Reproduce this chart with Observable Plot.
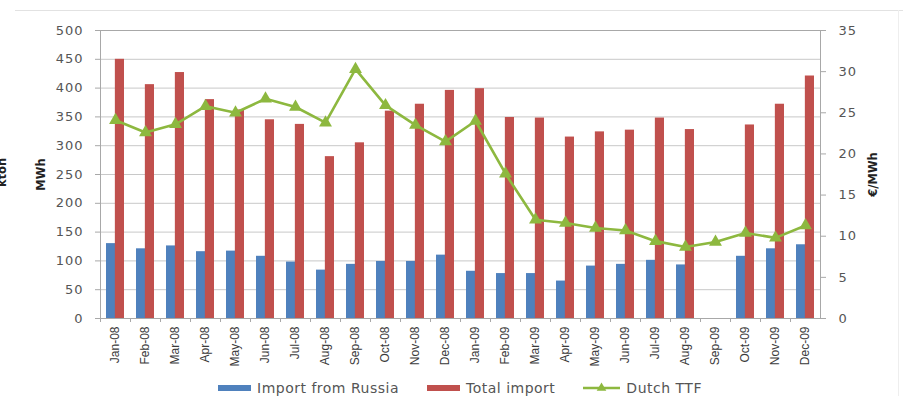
<!DOCTYPE html>
<html>
<head>
<meta charset="utf-8">
<script src="https://cdn.jsdelivr.net/npm/d3@7"></script>
<script src="https://cdn.jsdelivr.net/npm/@observablehq/plot@0.6"></script>
<style>
  body { margin: 0; background: #fff; font-family: "DejaVu Sans", sans-serif; }
  #wrap { position: relative; width: 903px; height: 396px; overflow: hidden; }
  #topline { position: absolute; left: 15px; right: 0; top: 10px; height: 1px; background: #e2e2e2; }
  #sideline { position: absolute; right: 4px; top: 10px; bottom: 0; width: 1px; background: #eeeeee; }
  #chart svg { display: block; }
  #chart [aria-label="y-axis tick label"] { letter-spacing: 1px; }
  #chart [aria-label="x-axis tick label"] { font-family: "Liberation Sans", Arial, sans-serif; font-size: 12px; fill: #3a3a3a; }
  #chart [aria-label="y-axis label"] { font-weight: bold; font-size: 11.5px; fill: #222; }
  #legend { position: absolute; top: 379px; left: 218px; height: 18px; display: flex; align-items: center;
            gap: 28px; font-size: 14px; letter-spacing: 0.5px; color: #555; white-space: nowrap; }
  .item { display: flex; align-items: center; gap: 6px; }
  .sw { width: 33px; height: 6px; }
  .ln { width: 37px; height: 12px; }
</style>
</head>
<body>
<div id="wrap">
  <div id="topline"></div>
  <div id="sideline"></div>
  <div id="chart"></div>
  <div id="legend"></div>
</div>
<script>
// Monthly gas imports (MWh) and the Dutch TTF gas price (€/MWh), 2008–2009
const months = ["Jan-08","Feb-08","Mar-08","Apr-08","May-08","Jun-08","Jul-08","Aug-08","Sep-08","Oct-08","Nov-08","Dec-08",
                "Jan-09","Feb-09","Mar-09","Apr-09","May-09","Jun-09","Jul-09","Aug-09","Sep-09","Oct-09","Nov-09","Dec-09"];
const importRussia = [130,121,126,116,117,108,98,84,94,99,99,110,
                      82,78,78,65,91,94,101,93,null,108,121,128];
const totalImport = [450,406,427,380,362,345,337,281,305,360,372,396,
                     399,349,348,315,324,327,348,328,null,336,372,421];
const dutchTTF = [24.1,22.6,23.6,25.8,25.0,26.7,25.7,23.8,30.3,25.9,23.5,21.5,
                  24.0,17.6,12.0,11.6,11.0,10.7,9.4,8.7,9.3,10.4,9.8,11.3];
const leftTicks = [0,50,100,150,200,250,300,350,400,450,500];
const rightTicks = [0,5,10,15,20,25,30,35];

const colors = { russia: "#4f81bd", total: "#c0504d", ttf: "#8db83f" };

// The price axis (0–35) shares the plot height with the volume axis (0–500)
const K = 500 / 35;

const rows = months.map((m, i) => ({
  month: m, russia: importRussia[i], total: totalImport[i], ttf: dutchTTF[i]
}));

// Each month's band holds two bars side by side
const pInner = 0.41;
const halfBand = (720 / 24) * (1 - pInner) / 2;

const chart = Plot.plot({
  width: 903,
  height: 370,
  marginLeft: 100,
  marginRight: 83,
  marginTop: 30,
  marginBottom: 52,
  style: { fontFamily: "DejaVu Sans, sans-serif", fontSize: "13px", color: "#555", background: "transparent" },
  x: { domain: months, paddingInner: pInner, paddingOuter: pInner / 2, align: 0.5 },
  y: { domain: [0, 500] },
  marks: [
    Plot.ruleY(leftTicks, { stroke: "#c8c8c8", strokeWidth: 1 }),
    Plot.frame({ stroke: "#a8a8a8" }),
    Plot.barY(rows, { x: "month", y: "russia", fill: colors.russia, insetRight: halfBand }),
    Plot.barY(rows, { x: "month", y: "total", fill: colors.total, insetLeft: halfBand }),
    Plot.line(rows, { x: "month", y: d => d.ttf * K, stroke: colors.ttf, strokeWidth: 2.6 }),
    Plot.dot(rows, { x: "month", y: d => d.ttf * K, symbol: "triangle", fill: colors.ttf, r: 4.8 }),
    Plot.axisY(leftTicks, {
      anchor: "left", tickSize: 5, tickPadding: 12, stroke: "#a8a8a8",
      label: "MWh", labelAnchor: "center", labelOffset: 64, labelArrow: "none"
    }),
    Plot.axisY(rightTicks.map(v => v * K), {
      anchor: "right", tickSize: 5, tickPadding: 13, stroke: "#a8a8a8",
      tickFormat: d => String(Math.round(d / K)),
      label: "€/MWh", labelAnchor: "center", labelOffset: 56, labelArrow: "none"
    }),
    Plot.axisX({ tickSize: 0, tickRotate: -90, tickPadding: 8, label: null }),
    Plot.axisX({ tickSize: 4, dx: -15, tickFormat: () => "", stroke: "#a8a8a8", label: null }),
    Plot.text(["kton"], {
      frameAnchor: "left", textAnchor: "middle", dx: -98, dy: -2, rotate: -90,
      fontWeight: "bold", fontSize: 11.5, fill: "#222"
    })
  ]
});
document.getElementById("chart").appendChild(chart);

// Legend below the plot
const legend = d3.select("#legend");
const items = [
  { label: "Import from Russia", kind: "bar", color: colors.russia },
  { label: "Total import", kind: "bar", color: colors.total },
  { label: "Dutch TTF", kind: "line", color: colors.ttf }
];
for (const it of items) {
  const el = legend.append("div").attr("class", "item");
  if (it.kind === "bar") {
    el.append("div").attr("class", "sw").style("background", it.color);
  } else {
    const svg = el.append("svg").attr("class", "ln").attr("width", 37).attr("height", 12);
    svg.append("line").attr("x1", 0).attr("x2", 37).attr("y1", 6).attr("y2", 6)
      .attr("stroke", it.color).attr("stroke-width", 2.6);
    svg.append("path").attr("d", d3.symbol(d3.symbolTriangle, 40)())
      .attr("transform", "translate(18.5,6)").attr("fill", it.color);
  }
  el.append("span").text(it.label);
}
</script>
</body>
</html>
